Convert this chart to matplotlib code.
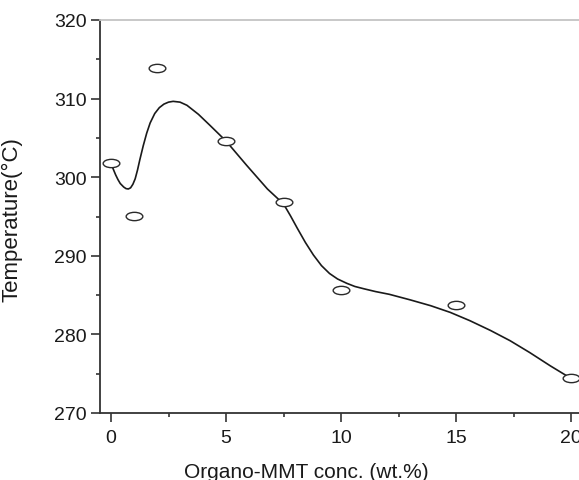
import numpy as np
import matplotlib.pyplot as plt
from matplotlib.path import Path
from matplotlib.ticker import MultipleLocator

plt.rcParams['font.family'] = ['Liberation Sans', 'DejaVu Sans']

# measured decomposition temperatures
conc = [0, 1, 2, 5, 7.5, 10, 15, 20]
temp = [301.8, 295.1, 313.9, 304.6, 296.9, 285.7, 283.7, 274.5]

# smoothed trend line
fit_x = [0, 0.1, 0.2, 0.3, 0.4, 0.55, 0.65, 0.75, 0.85, 0.95, 1.05, 1.15, 1.25,
         1.4, 1.55, 1.7, 1.9, 2.1, 2.3, 2.5, 2.7, 3.0, 3.3, 3.8, 4.3, 5.0, 5.9,
         6.8, 7.5, 7.8, 8.1, 8.45, 8.8, 9.15, 9.5, 9.85, 10.25, 10.6, 11.0,
         11.5, 12.1, 13.0, 13.9, 14.75, 15.6, 16.5, 17.35, 18.2, 19.1, 20.0]
fit_y = [301.8, 301.0, 300.3, 299.7, 299.2, 298.75, 298.55, 298.5, 298.65,
         299.1, 299.8, 300.9, 302.2, 304.0, 305.6, 306.9, 308.1, 308.85, 309.3,
         309.55, 309.65, 309.55, 309.15, 308.0, 306.6, 304.6, 301.5, 298.5,
         296.6, 295.1, 293.5, 291.7, 290.1, 288.75, 287.75, 287.05, 286.5, 286.1,
         285.8, 285.45, 285.1, 284.4, 283.65, 282.8, 281.75, 280.5, 279.2,
         277.7, 276.0, 274.4]

# flat open ellipse marker
circ = Path.unit_circle()
ellipse = Path(circ.vertices * np.array([1.0, 0.5]), circ.codes)

fig = plt.figure(figsize=(5.79, 4.81), dpi=100)
ax = fig.add_axes([100 / 579, 1 - 414 / 481, 482.5 / 579, 393 / 481])

ax.plot(fit_x, fit_y, color='#1a1a1a', lw=1.2, zorder=2,
        solid_joinstyle='round')
ax.plot(conc, temp, ls='none', marker=ellipse, ms=12, mfc='white',
        mec='#2a2a2a', mew=1.0, zorder=3)

ax.set_xlim(-0.48, 20.5)
ax.set_ylim(270, 320)
ax.xaxis.set_major_locator(MultipleLocator(5))
ax.xaxis.set_minor_locator(MultipleLocator(2.5))
ax.yaxis.set_major_locator(MultipleLocator(10))
ax.yaxis.set_minor_locator(MultipleLocator(5))

for side in ['left', 'bottom']:
    ax.spines[side].set_color('#333333')
    ax.spines[side].set_linewidth(1.3)
ax.spines['top'].set_color('#c4c4c4')
ax.spines['top'].set_linewidth(1.3)
ax.spines['right'].set_visible(False)

ax.tick_params(which='major', direction='out', length=6.5, width=1.2,
               color='#333333', labelsize=14, labelcolor='#1a1a1a')
ax.tick_params(which='minor', direction='out', length=3, width=1.2, color='#333333')
ax.tick_params(axis='y', pad=3)
ax.tick_params(axis='x', pad=5)

ax.set_xlabel('Organo-MMT conc. (wt.%)', fontsize=15, color='#1a1a1a')
ax.xaxis.set_label_coords(0.428, -0.125)
ax.set_ylabel('Temperature(°C)', fontsize=16, color='#1a1a1a')
ax.yaxis.set_label_coords(-0.16, 0.494)

fig.savefig('out.png', dpi=100)
